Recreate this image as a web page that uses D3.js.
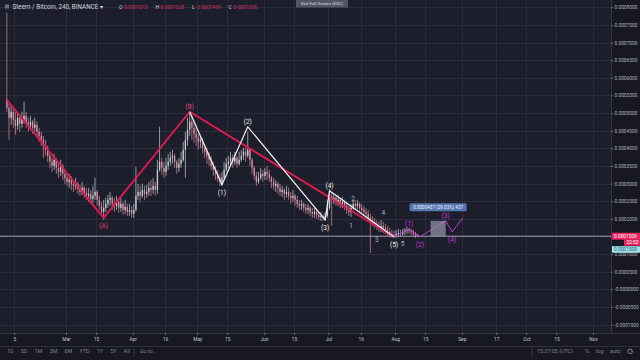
<!DOCTYPE html>
<html>
<head>
<meta charset="utf-8">
<script src="https://cdnjs.cloudflare.com/ajax/libs/d3/7.8.5/d3.min.js"></script>
<style>
body{margin:0;background:#1d1e2c;overflow:hidden}
text{font-family:Roboto,"Liberation Sans",sans-serif}
</style>
</head>
<body>
<div id="chart-area"></div>
<script>
// daily candles, prices in units of 1e-7 BTC, open = previous close
var UNIT = 1e-7;
var startDay = "2018-02-01";
var firstOpen = 5378;

var closes = [
  5151,4867,5037,4810,4639,4867,4696,4810,4923,4753,
  4639,4753,4583,4668,4469,4355,4242,4071,3957,3787,
  3617,3503,3673,3446,3332,3503,3276,3162,3048,3105,
  2992,2935,2992,2850,2764,2878,2736,2651,2707,2565,
  2651,2764,2537,2367,2196,2310,2423,2537,2594,2423,
  2367,2480,2310,2423,2253,2338,2196,2253,2139,2253,
  2651,2764,2651,2821,2707,2764,2878,2821,2935,2821,
  3389,3617,3446,3332,3503,3617,3730,3787,3617,3446,
  3560,3673,3957,4242,4526,4753,4583,4412,4298,4185,
  4242,4014,3901,3787,3673,3503,3389,3276,3162,3048,
  3162,3389,3560,3617,3730,3617,3730,3560,3673,3787,
  3901,3787,3957,3673,3446,3219,3048,3162,3276,3219,
  3332,3276,3162,3048,2935,2992,2878,2764,2821,2707,
  2764,2651,2594,2651,2537,2423,2367,2423,2310,2253,
  2310,2196,2139,2196,2111,2054,2082,2026,2082,2310,
  2651,2537,2594,2480,2537,2423,2480,2367,2253,2196,
  2310,2423,2367,2423,2310,2253,2196,2139,2026,1969,
  1912,1855,1798,1742,1798,1742,1685,1628,1571,1543,
  1514,1571,1599,1571,1628,1656,1685,1656,1628,1571,
  1543,1506
];
var highs = [
  7850,5264,5236,5151,5037,5009,4952,5037,5321,5037,
  4867,4923,4810,4867,4753,4583,4469,4355,4242,4071,
  3901,3730,3844,3730,3617,3673,3560,3389,3276,3276,
  3219,3105,3162,3048,2963,3048,2935,2878,2878,2821,
  2935,3162,2821,2651,2480,2537,2594,2679,2764,2651,
  2594,2651,2537,2594,2480,2537,2423,2423,2367,2423,
  3475,2992,2935,2992,2935,2963,3048,3105,3162,3048,
  3673,4611,3730,3617,3730,3844,3901,3957,3844,3673,
  3730,3901,4185,4469,4867,5037,4923,4810,4583,4412,
  4355,4298,4128,4014,3901,3787,3617,3503,3389,3276,
  3332,3617,3730,3787,3901,3815,3901,3787,3901,3957,
  4014,4014,4469,4014,3730,3503,3332,3332,3446,3389,
  3446,3503,3389,3219,3162,3105,3048,2992,2935,2878,
  2935,2878,2764,2821,2707,2651,2537,2537,2480,2423,
  2423,2367,2310,2310,2253,2196,2196,2139,2196,2537,
  2850,2764,2707,2651,2679,2594,2622,2537,2480,2367,
  2423,2537,2537,2537,2480,2423,2367,2310,2253,2139,
  2082,2026,1969,1912,1969,1912,1855,1798,1742,1685,
  1656,1685,1713,1685,1713,1742,1770,1742,1713,1685,
  1628,1571
];
var lows = [
  5037,4242,4668,4583,4384,4526,4469,4583,4696,4583,
  4469,4526,4412,4469,4298,4185,4071,3730,3787,3617,
  3446,3332,3389,3276,3162,3219,3105,2992,2935,2878,
  2821,2764,2821,2707,2651,2679,2594,2537,2480,2423,
  2452,2537,2367,2253,2082,1969,2196,2310,2367,2253,
  2196,2253,2168,2196,2111,2139,2082,2082,2026,2026,
  2196,2537,2480,2594,2537,2594,2651,2651,2707,2651,
  2707,3332,3247,3162,3219,3389,3503,3560,3446,3276,
  3332,3446,3617,3162,4071,4355,4242,4156,4071,3957,
  4014,3844,3730,3560,3503,3389,3219,3105,3048,2935,
  2935,3105,3332,3446,3503,3446,3531,3446,3503,3617,
  3673,3617,3730,3503,3276,3105,2935,2992,3105,3048,
  3105,3105,3048,2878,2821,2764,2707,2651,2622,2537,
  2594,2537,2423,2480,2367,2310,2253,2253,2196,2139,
  2139,2082,2026,2026,1997,1969,1940,1940,1940,2026,
  2253,1798,2423,2367,2367,2310,2310,2253,2139,2082,
  2054,2253,2253,2281,2196,2139,2082,2026,1912,1031,
  1798,1742,1685,1628,1628,1599,1571,1514,1486,1457,
  1457,1457,1486,1486,1514,1543,1571,1571,1543,1486,
  1457,1486
];

var timeTicks = ["2018-02-05","2018-03-01","2018-03-15","2018-04-01","2018-04-16","2018-05-01","2018-05-15","2018-06-01","2018-06-15",
  "2018-07-01","2018-07-16","2018-08-01","2018-08-15","2018-09-01","2018-09-17","2018-10-01","2018-10-15","2018-11-01"];
var timeLabels = ["5","Mar","15","Apr","16","May","15","Jun","15","Jul","16","Aug","15","Sep","17","Oct","15","Nov"];
var priceLabels = ["0.0008000","0.0007500","0.0007000","0.0006500","0.0006000","0.0005500","0.0005000","0.0004500","0.0004000",
  "0.0003500","0.0003000","0.0002500","0.0002000","0.0001500","0.0001000","0.0000500","-0.0000000","-0.0000500","-0.0001000"];

// elliott wave drawings
var abcWave = [
  {date:"2018-02-01", price:5378, label:""},
  {date:"2018-03-18", price:2026, label:"(A)"},
  {date:"2018-04-27", price:5037, label:"(B)"},
  {date:"2018-07-31", price:1486, label:""}
];
var impulseWave = [
  {date:"2018-04-27", price:5037, label:""},
  {date:"2018-05-12", price:2963, label:"(1)"},
  {date:"2018-05-24", price:4611, label:"(2)"},
  {date:"2018-06-29", price:1969, label:"(3)"},
  {date:"2018-07-01", price:2793, label:"(4)"},
  {date:"2018-07-31", price:1486, label:"(5)"}
];
var projWave = [
  {date:"2018-07-31", price:1486, label:""},
  {date:"2018-08-07", price:1713, label:"(1)"},
  {date:"2018-08-12", price:1486, label:"(2)"},
  {date:"2018-08-24", price:1943, label:"(3)"},
  {date:"2018-08-27", price:1628, label:"(4)"},
  {date:"2018-09-01", price:2026, label:""}
];
var minorLabels = [
  {date:"2018-07-11", price:1798, label:"1"},
  {date:"2018-07-12", price:2565, label:"2"},
  {date:"2018-07-23", price:1401, label:"3"},
  {date:"2018-07-26", price:2168, label:"4"},
  {date:"2018-08-04", price:1287, label:"5"}
];
var measureFrom = {date:"2018-08-17", price:1506};
var measureTo = {date:"2018-08-24", price:1943};
var measureText = "0.0000437 (29.03%) 437";

var legendOHLC = [["O","0.0001513"],["H","0.0001528"],["L","0.0001499"],["C","0.0001506"]];
var rangeButtons = ["1D","5D","1M","3M","6M","YTD","1Y","5Y","All"];

var W = 640, H = 360;
var plotRight = 611, plotBottom = 333, barTop = 346;
var upColor = "#c6ced2", downColor = "#d88c9e";
var abcColor = "#e6194f", abcText = "#e2457d", impColor = "#f2f2f2", projColor = "#c23bd4", minorColor = "#a3b3cc";

var parse = d3.utcParse("%Y-%m-%d");
var noon = function(s){ return d3.utcHour.offset(parse(s), 12); };

var svg = d3.select("#chart-area").append("svg").attr("width", W).attr("height", H);
svg.append("rect").attr("width", W).attr("height", H).attr("fill", "#1d1e2c");

var x = d3.scaleUtc().domain([parse("2018-03-01"), parse("2018-11-01")]).range([66, 593]);
var y = d3.scaleLinear().domain([0, 0.0008]).range([289.3, 7.3]);

var tickDates = timeTicks.map(parse);
var priceValues = priceLabels.map(function(s){ return +s; });

// grid
var grid = svg.append("g");
grid.selectAll(".vg").data(tickDates).enter().append("line")
  .attr("x1", function(d){ return Math.round(x(d)) + 0.5; })
  .attr("x2", function(d){ return Math.round(x(d)) + 0.5; })
  .attr("y1", 0).attr("y2", plotBottom)
  .attr("stroke", "#2b2d3d").attr("stroke-width", 1);
grid.selectAll(".hg").data(priceValues).enter().append("line")
  .attr("x1", 0).attr("x2", plotRight)
  .attr("y1", function(d){ return Math.round(y(d)) + 0.5; })
  .attr("y2", function(d){ return Math.round(y(d)) + 0.5; })
  .attr("stroke", "#2b2d3d").attr("stroke-width", 1);

// candles
var candles = closes.map(function(c, i){
  var o = i === 0 ? firstOpen : closes[i - 1];
  return {
    date: d3.utcHour.offset(d3.utcDay.offset(parse(startDay), i), 12),
    open: o * UNIT, close: c * UNIT,
    high: Math.max(highs[i], o, c) * UNIT,
    low: Math.min(lows[i], o, c) * UNIT
  };
});

var cg = svg.append("g");
cg.selectAll("line").data(candles).enter().append("line")
  .attr("x1", function(d){ return x(d.date); })
  .attr("x2", function(d){ return x(d.date); })
  .attr("y1", function(d){ return y(d.high); })
  .attr("y2", function(d){ return y(d.low); })
  .attr("stroke", function(d){ return d.close >= d.open ? upColor : downColor; })
  .attr("stroke-width", 0.7);
cg.selectAll("rect").data(candles).enter().append("rect")
  .attr("x", function(d){ return x(d.date) - 0.65; })
  .attr("width", 1.3)
  .attr("y", function(d){ return y(Math.max(d.open, d.close)); })
  .attr("height", function(d){ return Math.max(0.6, Math.abs(y(d.open) - y(d.close))); })
  .attr("fill", function(d){ return d.close >= d.open ? upColor : downColor; });

// last price line
var lastClose = closes[closes.length - 1] * UNIT;
svg.append("line")
  .attr("x1", 0).attr("x2", plotRight)
  .attr("y1", y(lastClose)).attr("y2", y(lastClose))
  .attr("stroke", "#aeadc0").attr("stroke-width", 0.9);

// waves
var waveLine = d3.line()
  .x(function(d){ return x(noon(d.date)); })
  .y(function(d){ return y(d.price * UNIT); });

function drawWave(pts, lineColor, textColor, width){
  svg.append("path").datum(pts)
    .attr("d", waveLine)
    .attr("fill", "none")
    .attr("stroke", lineColor)
    .attr("stroke-width", width)
    .attr("stroke-linejoin", "round");
  svg.selectAll(null).data(pts.filter(function(d){ return d.label; })).enter().append("text")
    .attr("x", function(d){ return x(noon(d.date)); })
    .attr("y", function(d){
      var i = pts.indexOf(d);
      var nb = [pts[i - 1], pts[i + 1]].filter(Boolean);
      var peak = nb.every(function(n){ return d.price > n.price; });
      return y(d.price * UNIT) + (peak ? -3 : 10.5);
    })
    .attr("text-anchor", "middle")
    .attr("font-size", "6.5px")
    .attr("fill", textColor)
    .text(function(d){ return d.label; });
}
drawWave(abcWave, abcColor, abcText, 1.8);
drawWave(impulseWave, impColor, impColor, 1.2);
drawWave(projWave, projColor, projColor, 1);

svg.selectAll(null).data(minorLabels).enter().append("text")
  .attr("x", function(d){ return x(noon(d.date)); })
  .attr("y", function(d){ return y(d.price * UNIT) + 2; })
  .attr("text-anchor", "middle")
  .attr("font-size", "6.5px")
  .attr("fill", minorColor)
  .text(function(d){ return d.label; });

// measure box + tooltip
var mx0 = x(noon(measureFrom.date)), mx1 = x(noon(measureTo.date));
var my0 = y(measureTo.price * UNIT), my1 = y(measureFrom.price * UNIT);
svg.append("rect")
  .attr("x", mx0).attr("y", my0).attr("width", mx1 - mx0).attr("height", my1 - my0)
  .attr("fill", "#8c90a6").attr("opacity", 0.75);
var tip = svg.append("g").attr("transform", "translate(" + ((mx0 + mx1) / 2) + "," + (my0 - 13.5) + ")");
tip.append("rect").attr("x", -28.5).attr("y", -4).attr("width", 57).attr("height", 8).attr("rx", 1.5)
  .attr("fill", "#5577b0");
tip.append("text").attr("text-anchor", "middle").attr("y", 1.8)
  .attr("font-size", "4.6px").attr("fill", "#eef2ff").text(measureText);

// price axis
svg.append("rect").attr("x", plotRight).attr("y", 0).attr("width", W - plotRight).attr("height", barTop)
  .attr("fill", "#171822");
svg.append("line").attr("x1", plotRight + 0.5).attr("x2", plotRight + 0.5).attr("y1", 0).attr("y2", plotBottom)
  .attr("stroke", "#33364a");
var yAxis = svg.append("g")
  .attr("transform", "translate(" + plotRight + ",0)")
  .call(d3.axisRight(y).tickValues(priceValues).tickFormat(function(d, i){ return priceLabels[i]; })
    .tickSize(2).tickPadding(1.5));
yAxis.select(".domain").remove();
yAxis.selectAll("line").attr("stroke", "#6b6e7c");
yAxis.selectAll("text").attr("font-size", "4.8px").attr("fill", "#b2b5be").attr("font-family", "Roboto, sans-serif");

// last price labels
var ly = y(lastClose);
svg.append("rect").attr("x", plotRight + 1).attr("y", ly - 3.5).attr("width", W - plotRight - 1).attr("height", 7)
  .attr("fill", "#e8235f");
svg.append("text").attr("x", plotRight + 3).attr("y", ly + 1.7).attr("font-size", "4.8px").attr("fill", "#fff")
  .text(d3.format(".7f")(lastClose));
svg.append("rect").attr("x", 624).attr("y", ly + 3).attr("width", 16).attr("height", 6.5).attr("fill", "#e8235f");
svg.append("text").attr("x", 626.5).attr("y", ly + 7.8).attr("font-size", "4.8px").attr("fill", "#fff").text("22:53");
svg.append("rect").attr("x", plotRight + 1).attr("y", ly + 10).attr("width", W - plotRight - 1).attr("height", 6.5)
  .attr("fill", "#a3e3ec");
svg.append("text").attr("x", plotRight + 3).attr("y", ly + 14.8).attr("font-size", "4.8px").attr("fill", "#1e5c6b")
  .text("0.0001500");

// time axis
svg.append("rect").attr("x", 0).attr("y", plotBottom).attr("width", W).attr("height", H - plotBottom)
  .attr("fill", "#171822");
svg.append("line").attr("x1", 0).attr("x2", W).attr("y1", plotBottom + 0.5).attr("y2", plotBottom + 0.5)
  .attr("stroke", "#33364a");
var xAxis = svg.append("g")
  .attr("transform", "translate(0," + plotBottom + ")")
  .call(d3.axisBottom(x).tickValues(tickDates).tickFormat(function(d, i){ return timeLabels[i]; })
    .tickSize(2).tickPadding(3));
xAxis.select(".domain").remove();
xAxis.selectAll("line").attr("stroke", "#6b6e7c");
xAxis.selectAll("text").attr("font-size", "4.8px").attr("fill", "#c3c6ce").attr("font-family", "Roboto, sans-serif");

// bottom toolbar
svg.append("line").attr("x1", 0).attr("x2", W).attr("y1", barTop + 0.5).attr("y2", barTop + 0.5)
  .attr("stroke", "#2e3142");
var tb = svg.append("g").attr("font-size", "5.4px").attr("fill", "#80838f");
var cx = 7;
rangeButtons.forEach(function(b){
  var t = tb.append("text").attr("x", cx).attr("y", 353).text(b);
  cx += t.node().getComputedTextLength() + 7.2;
});
tb.append("line").attr("x1", cx - 3).attr("x2", cx - 3).attr("y1", 348).attr("y2", 357).attr("stroke", "#33364a");
tb.append("text").attr("x", cx + 3).attr("y", 353).text("Go to...");
tb.append("line").attr("x1", 532).attr("x2", 532).attr("y1", 348).attr("y2", 357).attr("stroke", "#33364a");
tb.append("text").attr("x", 537).attr("y", 353).text("15:37:05 (UTC)");
tb.append("text").attr("x", 585).attr("y", 353).text("%");
tb.append("text").attr("x", 596).attr("y", 353).text("log");
tb.append("text").attr("x", 610).attr("y", 353).text("auto");
svg.append("circle").attr("cx", 630).attr("cy", 351.3).attr("r", 2.2)
  .attr("fill", "none").attr("stroke", "#9a9dab").attr("stroke-width", 1.3).attr("stroke-dasharray", "1 0.7");

// legend
svg.append("rect").attr("x", 5).attr("y", 4.5).attr("width", 4).attr("height", 4).attr("fill", "#6f7280");
svg.append("text").attr("x", 12.5).attr("y", 9.3).attr("font-size", "6.3px").attr("fill", "#d1d4dc")
  .text("Steem / Bitcoin, 240, BINANCE \u25BE");
var lg = svg.append("g").attr("font-size", "5px");
var lx = 119;
legendOHLC.forEach(function(p){
  lg.append("text").attr("x", lx).attr("y", 9).attr("fill", "#d1d4dc").text(p[0]);
  lg.append("text").attr("x", lx + 5).attr("y", 9).attr("fill", "#d0305f").text(p[1]);
  lx += 36.5;
});

// exit full screen button
svg.append("rect").attr("x", 296).attr("y", 0).attr("width", 52).attr("height", 7.5).attr("fill", "#545766");
svg.append("text").attr("x", 322).attr("y", 5.3).attr("text-anchor", "middle").attr("font-size", "4.4px")
  .attr("fill", "#d8d9de").text("Exit Full Screen (ESC)");
</script>
</body>
</html>
